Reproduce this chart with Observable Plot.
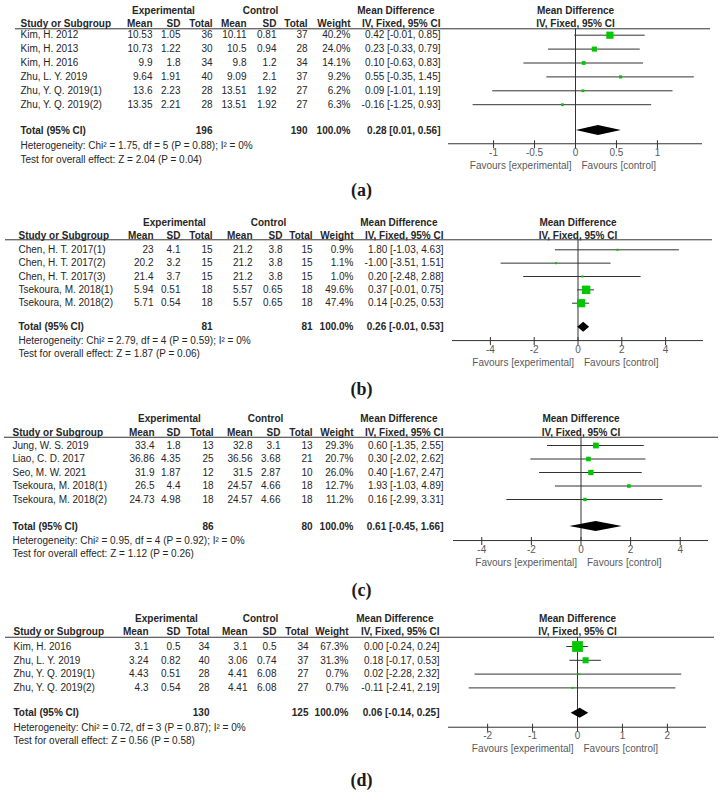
<!DOCTYPE html>
<html><head><meta charset="utf-8">
<script src="https://cdn.jsdelivr.net/npm/d3@7"></script>
<script src="https://cdn.jsdelivr.net/npm/@observablehq/plot@0.6"></script>
<style>
html,body{margin:0;padding:0;background:#fff;}
#page{position:relative;width:723px;height:792px;overflow:hidden;background:#fff;}
.panel{position:absolute;left:0;}
.cap{position:absolute;left:0;width:723px;text-align:center;font-family:"Liberation Serif","DejaVu Serif",serif;font-weight:bold;font-size:18px;color:#1a1a1a;line-height:18px;}
</style></head><body><div id="page"></div>
<script>
// ---------- DATA ----------
// Panel (a)
const studiesA = ["Kim, H. 2012", "Kim, H. 2013", "Kim, H. 2016", "Zhu, L. Y. 2019", "Zhu, Y. Q. 2019(1)", "Zhu, Y. Q. 2019(2)"];
const expMeanA = [10.53, 10.73, 9.9, 9.64, 13.6, 13.35];
const expSDA = [1.05, 1.22, 1.8, 1.91, 2.23, 2.21];
const expNA = [36, 30, 34, 40, 28, 28];
const ctlMeanA = [10.11, 10.5, 9.8, 9.09, 13.51, 13.51];
const ctlSDA = [0.81, 0.94, 1.2, 2.1, 1.92, 1.92];
const ctlNA = [37, 28, 34, 37, 27, 27];
const weightA = [40.2, 24.0, 14.1, 9.2, 6.2, 6.3];
const mdA = [0.42, 0.23, 0.10, 0.55, 0.09, -0.16];
const loA = [-0.01, -0.33, -0.63, -0.35, -1.01, -1.25];
const hiA = [0.85, 0.79, 0.83, 1.45, 1.19, 0.93];
const totalA = [196, 190, 0.28, 0.01, 0.56];
const hetA = "Heterogeneity: Chi\u00b2 = 1.75, df = 5 (P = 0.88); I\u00b2 = 0%";
const testA = "Test for overall effect: Z = 2.04 (P = 0.04)";
const ticksA = [-1, -0.5, 0, 0.5, 1];

// Panel (b)
const studiesB = ["Chen, H. T. 2017(1)", "Chen, H. T. 2017(2)", "Chen, H. T. 2017(3)", "Tsekoura, M. 2018(1)", "Tsekoura, M. 2018(2)"];
const expMeanB = [23, 20.2, 21.4, 5.94, 5.71];
const expSDB = [4.1, 3.2, 3.7, 0.51, 0.54];
const expNB = [15, 15, 15, 18, 18];
const ctlMeanB = [21.2, 21.2, 21.2, 5.57, 5.57];
const ctlSDB = [3.8, 3.8, 3.8, 0.65, 0.65];
const ctlNB = [15, 15, 15, 18, 18];
const weightB = [0.9, 1.1, 1.0, 49.6, 47.4];
const mdB = [1.80, -1.00, 0.20, 0.37, 0.14];
const loB = [-1.03, -3.51, -2.48, -0.01, -0.25];
const hiB = [4.63, 1.51, 2.88, 0.75, 0.53];
const totalB = [81, 81, 0.26, -0.01, 0.53];
const hetB = "Heterogeneity: Chi\u00b2 = 2.79, df = 4 (P = 0.59); I\u00b2 = 0%";
const testB = "Test for overall effect: Z = 1.87 (P = 0.06)";
const ticksB = [-4, -2, 0, 2, 4];

// Panel (c)
const studiesC = ["Jung, W. S. 2019", "Liao, C. D. 2017", "Seo, M. W. 2021", "Tsekoura, M. 2018(1)", "Tsekoura, M. 2018(2)"];
const expMeanC = [33.4, 36.86, 31.9, 26.5, 24.73];
const expSDC = [1.8, 4.35, 1.87, 4.4, 4.98];
const expNC = [13, 25, 12, 18, 18];
const ctlMeanC = [32.8, 36.56, 31.5, 24.57, 24.57];
const ctlSDC = [3.1, 3.68, 2.87, 4.66, 4.66];
const ctlNC = [13, 21, 10, 18, 18];
const weightC = [29.3, 20.7, 26.0, 12.7, 11.2];
const mdC = [0.60, 0.30, 0.40, 1.93, 0.16];
const loC = [-1.35, -2.02, -1.67, -1.03, -2.99];
const hiC = [2.55, 2.62, 2.47, 4.89, 3.31];
const totalC = [86, 80, 0.61, -0.45, 1.66];
const hetC = "Heterogeneity: Chi\u00b2 = 0.95, df = 4 (P = 0.92); I\u00b2 = 0%";
const testC = "Test for overall effect: Z = 1.12 (P = 0.26)";
const ticksC = [-4, -2, 0, 2, 4];

// Panel (d)
const studiesD = ["Kim, H. 2016", "Zhu, L. Y. 2019", "Zhu, Y. Q. 2019(1)", "Zhu, Y. Q. 2019(2)"];
const expMeanD = [3.1, 3.24, 4.43, 4.3];
const expSDD = [0.5, 0.82, 0.51, 0.54];
const expND = [34, 40, 28, 28];
const ctlMeanD = [3.1, 3.06, 4.41, 4.41];
const ctlSDD = [0.5, 0.74, 6.08, 6.08];
const ctlND = [34, 37, 27, 27];
const weightD = [67.3, 31.3, 0.7, 0.7];
const mdD = [0.00, 0.18, 0.02, -0.11];
const loD = [-0.24, -0.17, -2.28, -2.41];
const hiD = [0.24, 0.53, 2.32, 2.19];
const totalD = [130, 125, 0.06, -0.14, 0.25];
const hetD = "Heterogeneity: Chi\u00b2 = 0.72, df = 3 (P = 0.87); I\u00b2 = 0%";
const testD = "Test for overall effect: Z = 0.56 (P = 0.58)";
const ticksD = [-2, -1, 0, 1, 2];

// Labels
const topHeaders = ["Experimental", "Control", "Mean Difference"];
const colHeaders = ["Study or Subgroup", "Mean", "SD", "Total", "Mean", "SD", "Total", "Weight", "IV, Fixed, 95% CI"];
const forestHeaders = ["Mean Difference", "IV, Fixed, 95% CI"];
const totalLabel = "Total (95% CI)";
const totalWeight = "100.0%";
const favours = ["Favours [experimental]", "Favours [control]"];
const captions = ["(a)", "(b)", "(c)", "(d)"];

// ---------- LAYOUT (positions only) ----------
const layouts = [
  {top: 0, h: 178, row0: 34.7, step: 13.9, h1: -1.78, h2: -0.82, line: -0.46, total: 6.86, het: 7.97, test: 8.96, axis: 7.81, fav: 9.37,
   xr: [448, 702], dom: [-1.55, 1.55], lineX: [15, 710],
   cols: {study: 20, em: 152, esd: 180, en: 212, cm: 246, csd: 276, cn: 307, w: 350, ci: 440, exp: 163, ctl: 260}, cap: 190},
  {top: 200, h: 175, row0: 249.3, step: 13.35, h1: -2.05, h2: -1.05, line: -0.75, total: 5.8, het: 6.8, test: 7.8, axis: 6.8, fav: 8.45,
   xr: [452, 703], dom: [-5.73, 5.73], lineX: [5, 712],
   cols: {study: 18, em: 153, esd: 180, en: 212, cm: 252, csd: 282, cn: 312, w: 353, ci: 443, exp: 174, ctl: 268}, cap: 389},
  {top: 400, h: 175, row0: 445, step: 13.5, h1: -2.0, h2: -0.91, line: -0.61, total: 6.0, het: 7.04, test: 8.02, axis: 7.04, fav: 8.67,
   xr: [453, 708], dom: [-5.14, 5.14], lineX: [4, 718],
   cols: {study: 12, em: 154, esd: 180, en: 213, cm: 252, csd: 280, cn: 312, w: 353, ci: 443, exp: 169, ctl: 265}, cap: 590},
  {top: 600, h: 175, row0: 646, step: 13.8, h1: -2.02, h2: -1.04, line: -0.67, total: 4.83, het: 5.89, test: 6.86, axis: 5.85, fav: 7.41,
   xr: [448, 706], dom: [-2.87, 2.87], lineX: [5, 714],
   cols: {study: 13, em: 148, esd: 180, en: 209, cm: 247, csd: 276, cn: 308, w: 348, ci: 439, exp: 166, ctl: 260}, cap: 780}
];

const panels = [
  {studies: studiesA, expMean: expMeanA, expSD: expSDA, expN: expNA, ctlMean: ctlMeanA, ctlSD: ctlSDA, ctlN: ctlNA, weight: weightA, md: mdA, lo: loA, hi: hiA, total: totalA, het: hetA, test: testA, ticks: ticksA},
  {studies: studiesB, expMean: expMeanB, expSD: expSDB, expN: expNB, ctlMean: ctlMeanB, ctlSD: ctlSDB, ctlN: ctlNB, weight: weightB, md: mdB, lo: loB, hi: hiB, total: totalB, het: hetB, test: testB, ticks: ticksB},
  {studies: studiesC, expMean: expMeanC, expSD: expSDC, expN: expNC, ctlMean: ctlMeanC, ctlSD: ctlSDC, ctlN: ctlNC, weight: weightC, md: mdC, lo: loC, hi: hiC, total: totalC, het: hetC, test: testC, ticks: ticksC},
  {studies: studiesD, expMean: expMeanD, expSD: expSDD, expN: expND, ctlMean: ctlMeanD, ctlSD: ctlSDD, ctlN: ctlND, weight: weightD, md: mdD, lo: loD, hi: hiD, total: totalD, het: hetD, test: testD, ticks: ticksD}
];

const ink = "#262626", gray = "#5a5a5a", lineCol = "#333", green = "#00c800";
const W = 723;

function forest(P, L) {
  const rows = P.studies.map((s, i) => ({i, s, em: P.expMean[i], esd: P.expSD[i], en: P.expN[i], cm: P.ctlMean[i], csd: P.ctlSD[i], cn: P.ctlN[i], w: P.weight[i], md: P.md[i], lo: P.lo[i], hi: P.hi[i]}));
  const C = L.cols;
  const ciStr = (m, a, b) => `${m.toFixed(2)} [${a.toFixed(2)}, ${b.toFixed(2)}]`;
  const colText = (fmt, x, anchor) => Plot.text(rows, {y: "i", text: fmt, frameAnchor: "left", dx: x, textAnchor: anchor, fill: ink, fontSize: 10});
  const label = (t, y, x, anchor, bold, fill) => Plot.text([t], {y: () => y, text: d => d, frameAnchor: "left", dx: x, textAnchor: anchor, fontWeight: bold ? "bold" : "normal", fill: fill || ink, fontSize: 10});
  const [tE, tC, tMd, tLo, tHi] = P.total;
  const diamond = [
    {y: L.total - 5 / L.step, x1: tMd, x2: tMd},
    {y: L.total, x1: tLo, x2: tHi},
    {y: L.total + 5 / L.step, x1: tMd, x2: tMd}
  ];
  const colX = [C.study, C.em, C.esd, C.en, C.cm, C.csd, C.cn, C.w, C.ci];
  const axisPx = L.row0 - L.top + L.step * L.axis;
  const marks = [
    Plot.ruleY([L.line], {insetLeft: L.lineX[0], insetRight: W - L.lineX[1], stroke: lineCol}),
    label(topHeaders[0], L.h1, C.exp, "middle", true),
    label(topHeaders[1], L.h1, C.ctl, "middle", true),
    label(topHeaders[2], L.h1, C.ci - 6, "end", true),
    ...colHeaders.map((t, k) => label(t, L.h2, colX[k], k === 0 ? "start" : "end", true)),
    Plot.text([forestHeaders[0]], {x: () => 0, y: () => L.h1, text: d => d, textAnchor: "middle", fontWeight: "bold", fill: ink, fontSize: 10}),
    Plot.text([forestHeaders[1]], {x: () => 0, y: () => L.h2, text: d => d, textAnchor: "middle", fontWeight: "bold", fill: ink, fontSize: 10}),
    colText(d => d.s, C.study, "start"),
    colText(d => String(d.em), C.em, "end"),
    colText(d => String(d.esd), C.esd, "end"),
    colText(d => String(d.en), C.en, "end"),
    colText(d => String(d.cm), C.cm, "end"),
    colText(d => String(d.csd), C.csd, "end"),
    colText(d => String(d.cn), C.cn, "end"),
    colText(d => d.w.toFixed(1) + "%", C.w, "end"),
    colText(d => ciStr(d.md, d.lo, d.hi), C.ci, "end"),
    label(totalLabel, L.total, C.study, "start", true),
    label(String(tE), L.total, C.en, "end", true),
    label(String(tC), L.total, C.cn, "end", true),
    label(totalWeight, L.total, C.w, "end", true),
    label(ciStr(tMd, tLo, tHi), L.total, C.ci, "end", true),
    label(P.het, L.het, C.study, "start"),
    label(P.test, L.test, C.study, "start"),
    Plot.ruleX([0], {y1: L.line, y2: L.axis, stroke: lineCol}),
    Plot.ruleY([L.axis], {x1: L.dom[0], x2: L.dom[1], stroke: lineCol}),
    Plot.ruleX(P.ticks, {y1: L.axis - 3 / L.step, y2: L.axis + 5 / L.step, stroke: lineCol}),
    Plot.axisX(P.ticks, {anchor: "bottom", tickSize: 0, tickPadding: 5, tickFormat: d => String(d), color: gray, fontSize: 10}),
    Plot.ruleY(rows, {y: "i", x1: "lo", x2: "hi", stroke: lineCol}),
    Plot.dot(rows, {x: "md", y: "i", r: "w", symbol: "square", fill: green, stroke: "none"}),
    Plot.areaX(diamond, {y: "y", x1: "x1", x2: "x2", fill: "#000"}),
    Plot.text([favours[0]], {x: () => 0, y: () => L.fav, text: d => d, textAnchor: "end", dx: -4, fill: gray, fontSize: 10}),
    Plot.text([favours[1]], {x: () => 0, y: () => L.fav, text: d => d, textAnchor: "start", dx: 6, fill: gray, fontSize: 10})
  ];
  return Plot.plot({
    width: W, height: L.h,
    marginTop: 0, marginLeft: 0, marginRight: 0, marginBottom: L.h - axisPx,
    x: {domain: L.dom, range: L.xr},
    y: {domain: [0, 1], range: [L.row0 - L.top, L.row0 - L.top + L.step], axis: null},
    r: {type: "linear", domain: [0, 100], range: [1.1, 8.5]},
    style: {background: "transparent", fontFamily: "'Liberation Sans', Arial, sans-serif", fontSize: "10px", color: ink, overflow: "visible"},
    marks
  });
}

const page = document.getElementById("page");
panels.forEach((P, k) => {
  const L = layouts[k];
  const div = document.createElement("div");
  div.className = "panel";
  div.style.top = L.top + "px";
  div.appendChild(forest(P, L));
  page.appendChild(div);
});
layouts.forEach((L, k) => {
  const c = document.createElement("div");
  c.className = "cap";
  c.style.top = (L.cap - 9) + "px";
  c.textContent = captions[k];
  page.appendChild(c);
});
</script>
</body></html>
